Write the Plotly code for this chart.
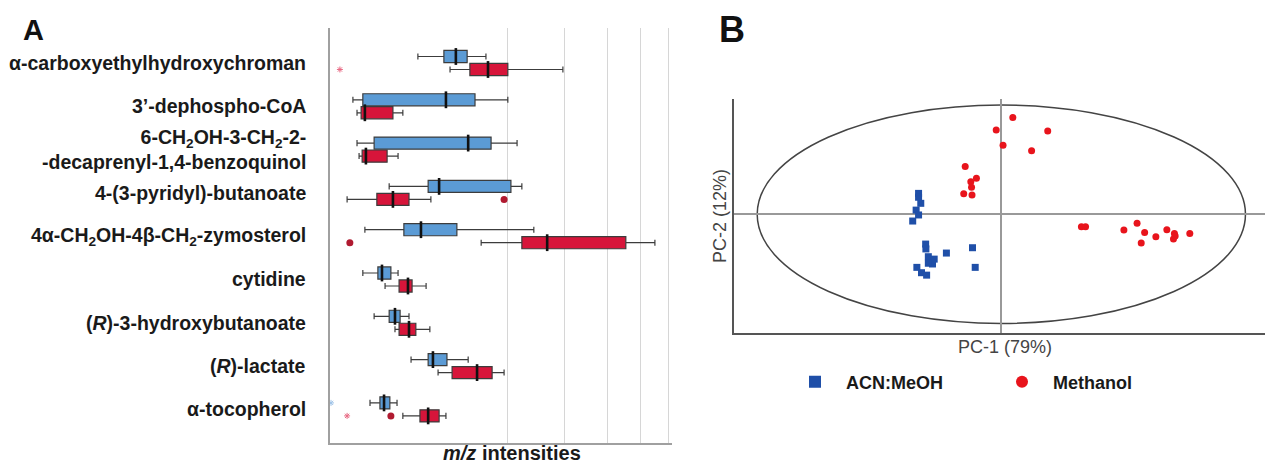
import plotly.graph_objects as go

# ---------------- Panel A data (m/z intensities, arbitrary units) ----------------
METABOLITES = [
    "α-carboxyethylhydroxychroman",
    "3’-dephospho-CoA",
    "6-CH<sub>2</sub>OH-3-CH<sub>2</sub>-2-<br>-decaprenyl-1,4-benzoquinol",
    "4-(3-pyridyl)-butanoate",
    "4α-CH<sub>2</sub>OH-4β-CH<sub>2</sub>-zymosterol",
    "cytidine",
    "(<i>R</i>)-3-hydroxybutanoate",
    "(<i>R</i>)-lactate",
    "α-tocopherol",
]

# ACN:MeOH (blue) box statistics
ACN_LF = [25.7, 6.7, 7.9, 17.3, 10.2, 9.6, 12.9, 23.7, 11.7]
ACN_Q1 = [33.3, 9.6, 12.9, 28.7, 21.6, 14.0, 17.3, 28.7, 14.6]
ACN_MED = [36.8, 33.9, 40.4, 31.9, 26.6, 15.2, 19.0, 30.1, 15.8]
ACN_Q3 = [40.1, 42.4, 47.1, 52.9, 37.1, 17.8, 20.5, 34.2, 17.5]
ACN_UF = [45.6, 52.0, 54.7, 56.1, 59.6, 19.9, 23.1, 40.4, 19.6]

# Methanol (red) box statistics
MEOH_LF = [35.1, 7.9, 8.5, 5.0, 44.2, 16.1, 19.0, 31.6, 21.3]
MEOH_Q1 = [40.9, 9.1, 9.4, 13.7, 56.1, 20.2, 20.2, 35.7, 26.3]
MEOH_MED = [46.2, 10.2, 10.5, 18.4, 63.5, 22.8, 23.1, 43.0, 28.7]
MEOH_Q3 = [52.0, 18.4, 16.7, 23.1, 86.5, 24.0, 25.1, 47.4, 31.9]
MEOH_UF = [68.1, 21.3, 19.9, 29.5, 95.0, 28.1, 29.2, 50.9, 33.9]

# outliers: row index, value
ACN_EXTREME_ROW = [8]
ACN_EXTREME_VAL = [0.3]
MEOH_EXTREME_ROW = [0, 8]
MEOH_EXTREME_VAL = [2.9, 5.0]
MEOH_OUTLIER_ROW = [3, 4, 8]
MEOH_OUTLIER_VAL = [50.9, 5.8, 17.8]

GRID_A = [52.0, 68.7, 81.0, 90.9, 99.1]

# ---------------- Panel B data (PCA scores) ----------------
ACN_PC1 = [-3.39, -3.39, -3.30, -3.49, -3.39, -3.63, -3.10, -3.09, -2.99,
           -2.75, -2.82, -2.99, -2.25, -1.18, -1.07, -3.46, -3.27, -3.06]
ACN_PC2 = [0.86, 0.70, 0.45, 0.17, -0.03, -0.28, -1.23, -1.43, -1.75,
           -1.85, -2.05, -2.02, -1.60, -1.38, -2.19, -2.19, -2.41, -2.51]
MEOH_PC1 = [0.47, -0.21, 1.90, 0.07, 1.24, -1.48, -1.02, -1.25, -1.22, -1.54, -1.20,
            3.28, 3.45, 5.02, 5.56, 5.87, 6.33, 5.73, 6.78, 7.09, 7.05, 7.12, 7.72]
MEOH_PC2 = [3.99, 3.47, 3.43, 2.84, 2.62, 1.97, 1.48, 1.34, 1.11, 0.84, 0.79,
            -0.52, -0.52, -0.65, -0.37, -0.75, -0.93, -1.19, -0.64, -0.79, -1.02, -0.90, -0.79]
ELLIPSE_A = 10.0
ELLIPSE_B = 4.5

# ---------------- styling ----------------
FONT = "Liberation Sans, Arial, sans-serif"
BLUE = "#5b9bd5"
RED = "#d7153a"
W, H = 1265, 464

rows = list(range(len(METABOLITES)))
pos_acn = [r - 0.15 for r in rows]
pos_meoh = [r + 0.15 for r in rows]

fig = go.Figure()

box_common = dict(orientation="h", width=0.28, whiskerwidth=0.5, boxpoints=False,
                  line=dict(color="#3c3c3c", width=1.2), xaxis="x", yaxis="y",
                  showlegend=False, hoverinfo="skip")

fig.add_trace(go.Box(y=pos_acn, q1=ACN_Q1, median=ACN_MED, q3=ACN_Q3,
                     lowerfence=ACN_LF, upperfence=ACN_UF, fillcolor=BLUE, **box_common))
fig.add_trace(go.Box(y=pos_meoh, q1=MEOH_Q1, median=MEOH_MED, q3=MEOH_Q3,
                     lowerfence=MEOH_LF, upperfence=MEOH_UF, fillcolor=RED, **box_common))

# thick median bars
fig.add_trace(go.Scatter(x=ACN_MED + MEOH_MED, y=pos_acn + pos_meoh, mode="markers",
                         marker=dict(symbol="line-ns", size=12, color="#111111",
                                     line=dict(color="#111111", width=2.6)),
                         xaxis="x", yaxis="y", showlegend=False, hoverinfo="skip"))

# outliers
fig.add_trace(go.Scatter(x=ACN_EXTREME_VAL, y=[r - 0.15 for r in ACN_EXTREME_ROW],
                         mode="markers",
                         marker=dict(symbol="asterisk-open", size=5, color="#9fc3e8",
                                     line=dict(color="#9fc3e8", width=1)),
                         xaxis="x", yaxis="y", showlegend=False, hoverinfo="skip"))
fig.add_trace(go.Scatter(x=MEOH_EXTREME_VAL, y=[r + 0.15 for r in MEOH_EXTREME_ROW],
                         mode="markers",
                         marker=dict(symbol="asterisk-open", size=5, color="#e86a84",
                                     line=dict(color="#e86a84", width=1)),
                         xaxis="x", yaxis="y", showlegend=False, hoverinfo="skip"))
fig.add_trace(go.Scatter(x=MEOH_OUTLIER_VAL, y=[r + 0.15 for r in MEOH_OUTLIER_ROW],
                         mode="markers",
                         marker=dict(symbol="circle", size=7, color="#b01a30"),
                         xaxis="x", yaxis="y", showlegend=False, hoverinfo="skip"))

# Panel B scatter
fig.add_trace(go.Scatter(x=ACN_PC1, y=ACN_PC2, mode="markers", name="ACN:MeOH",
                         marker=dict(symbol="square", size=7, color="#1f4fa8"),
                         xaxis="x2", yaxis="y2", hoverinfo="skip"))
fig.add_trace(go.Scatter(x=MEOH_PC1, y=MEOH_PC2, mode="markers", name="Methanol",
                         marker=dict(symbol="circle", size=7, color="#e8141c"),
                         xaxis="x2", yaxis="y2", hoverinfo="skip"))

annotations = []
# metabolite labels
for i, lab in enumerate(METABOLITES):
    annotations.append(dict(text=lab, x=308 / W, xref="paper", y=i, yref="y",
                            xanchor="right", yanchor="middle", align="right",
                            showarrow=False,
                            font=dict(family=FONT, size=19.5, color="#1a1a1a", weight="bold")))
annotations += [
    dict(text="<i>m/z</i> intensities", x=512 / W, y=1 - 453 / H, xref="paper", yref="paper",
         xanchor="center", yanchor="middle", showarrow=False,
         font=dict(family=FONT, size=20, color="#1a1a1a", weight="bold")),
    dict(text="A", x=33 / W, y=1 - 30 / H, xref="paper", yref="paper",
         xanchor="center", yanchor="middle", showarrow=False,
         font=dict(family=FONT, size=29, color="#111", weight="bold")),
    dict(text="B", x=732 / W, y=1 - 29 / H, xref="paper", yref="paper",
         xanchor="center", yanchor="middle", showarrow=False,
         font=dict(family=FONT, size=36, color="#111", weight="bold")),
    dict(text="PC-1 (79%)", x=1005 / W, y=1 - 347 / H, xref="paper", yref="paper",
         xanchor="center", yanchor="middle", showarrow=False,
         font=dict(family=FONT, size=18, color="#444")),
    dict(text="PC-2 (12%)", x=720 / W, y=1 - 216 / H, xref="paper", yref="paper",
         xanchor="center", yanchor="middle", showarrow=False, textangle=-90,
         font=dict(family=FONT, size=18, color="#444")),
]

shapes = [dict(type="circle", xref="x2", yref="y2", x0=-ELLIPSE_A, x1=ELLIPSE_A,
               y0=-ELLIPSE_B, y1=ELLIPSE_B, line=dict(color="#444", width=1.5),
               layer="below")]

fig.update_layout(
    width=W, height=H, margin=dict(l=0, r=0, t=0, b=0),
    paper_bgcolor="white", plot_bgcolor="white",
    font=dict(family=FONT),
    xaxis=dict(domain=[330 / W, 672 / W], range=[0, 100], tickvals=GRID_A,
               showticklabels=False, ticks="", showgrid=True, gridcolor="#d6d6d6",
               gridwidth=1.3, zeroline=False, showline=True, linecolor="#a0a0a0",
               linewidth=1.5, fixedrange=True),
    yaxis=dict(domain=[1 - 443 / H, 1 - 28 / H], range=[8.776, -0.808],
               showticklabels=False, ticks="", showgrid=False, zeroline=False,
               showline=True, linecolor="#a0a0a0", linewidth=2, anchor="x"),
    xaxis2=dict(domain=[734 / W, 1.0], range=[-10.95, 10.80], showticklabels=False,
                ticks="", showgrid=False, zeroline=True, zerolinecolor="#999",
                zerolinewidth=1.5, showline=True, linecolor="#555", linewidth=2,
                anchor="y2"),
    yaxis2=dict(domain=[1 - 333 / H, 1 - 99 / H], range=[-4.895, 4.75],
                showticklabels=False, ticks="", showgrid=False, zeroline=True,
                zerolinecolor="#999", zerolinewidth=1.5, showline=True,
                linecolor="#555", linewidth=2, anchor="x2"),
    legend=dict(orientation="h", x=784 / W, y=1 - 382 / H, xanchor="left",
                yanchor="middle", itemsizing="constant", itemwidth=52,
                entrywidth=140, entrywidthmode="pixels",
                font=dict(family=FONT, size=18, color="#1a1a1a", weight="bold"),
                bgcolor="rgba(0,0,0,0)"),
    annotations=annotations,
    shapes=shapes,
)

fig.write_html("out.html", config={"displayModeBar": False},
               post_script="document.body.style.margin='0';document.body.style.overflow='hidden';")
